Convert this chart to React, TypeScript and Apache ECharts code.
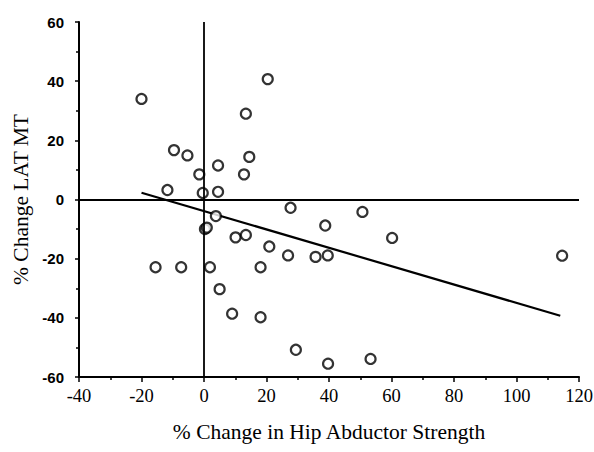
import React, { useEffect, useRef } from "react";
import * as echarts from "echarts";

const strengthChange = [
  -20, 20.4, 13.4, -9.6, -5.3, 4.5, 14.5, -1.5, 12.8, -11.7, -0.4, 4.5, 3.8, 0.3, 0.9,
  10.1, 13.4, 20.9, 27.7, 26.9, 38.8, 35.7, 39.6, -15.5, -7.3, 1.9, 18.1, 5, 9, 18.1,
  29.4, 39.7, 50.7, 60.2, 114.6, 53.3,
];
const latMtChange = [
  34, 40.7, 29, 16.7, 14.9, 11.5, 14.4, 8.5, 8.5, 3.2, 2.2, 2.6, -5.6, -10, -9.5,
  -12.8, -12, -15.9, -2.8, -18.9, -8.8, -19.4, -18.9, -22.9, -22.9, -22.9, -22.9, -30.3, -38.6, -39.8,
  -50.8, -55.5, -4.2, -13, -19, -53.9,
];
const fitX = [-20, 114];
const fitY = [2.3, -39.3];

const xTitle = "% Change in Hip Abductor Strength";
const yTitle = "% Change LAT MT";

export default function App() {
  const ref = useRef<HTMLDivElement>(null);
  useEffect(() => {
    if (!ref.current) return;
    const chart = echarts.init(ref.current, undefined, { renderer: "svg" });
    const serif = "'Liberation Serif', 'DejaVu Serif', serif";
    const sans = "'Liberation Sans', Arial, sans-serif";
    chart.setOption({
      animation: false,
      backgroundColor: "#ffffff",
      grid: { left: 79, right: 15, top: 22, bottom: 75, containLabel: false, outerBoundsMode: "none" },
      xAxis: {
        type: "value",
        min: -40,
        max: 120,
        interval: 20,
        name: xTitle,
        nameLocation: "middle",
        nameGap: 44,
        nameMoveOverlap: false,
        nameTextStyle: { fontFamily: serif, fontSize: 21.5, color: "#000" },
        axisLine: { show: true, onZero: false, lineStyle: { color: "#000", width: 2 } },
        axisTick: { show: true, inside: false, length: 5, lineStyle: { color: "#000", width: 1.5 } },
        minorTick: { show: true, splitNumber: 2, length: 3, lineStyle: { color: "#000", width: 1.5 } },
        axisLabel: { fontFamily: serif, fontSize: 18.5, color: "#000", margin: 9 },
        splitLine: { show: false },
      },
      yAxis: {
        type: "value",
        min: -60,
        max: 60,
        interval: 20,
        name: yTitle,
        nameLocation: "middle",
        nameGap: 47,
        nameMoveOverlap: false,
        nameRotate: 90,
        nameTextStyle: { fontFamily: serif, fontSize: 21.5, color: "#000" },
        axisLine: { show: true, onZero: false, lineStyle: { color: "#000", width: 2 } },
        axisTick: { show: true, inside: false, length: 4, lineStyle: { color: "#000", width: 1.5 } },
        minorTick: { show: true, splitNumber: 2, length: 3, lineStyle: { color: "#000", width: 1.5 } },
        axisLabel: { fontFamily: sans, fontWeight: "bold", fontSize: 15, color: "#000", margin: 15 },
        splitLine: { show: false },
      },
      series: [
        {
          type: "line",
          data: fitX.map((x, i) => [x, fitY[i]]),
          symbol: "none",
          lineStyle: { color: "#000", width: 2.2 },
          z: 3,
          markLine: {
            silent: true,
            symbol: "none",
            label: { show: false },
            lineStyle: { color: "#000", width: 1.8, type: "solid" },
            data: [{ xAxis: 0 }, { yAxis: 0 }],
          },
        },
        {
          type: "scatter",
          data: strengthChange.map((x, i) => [x, latMtChange[i]]),
          symbol: "circle",
          symbolSize: 10,
          itemStyle: { color: "#fff", borderColor: "#000", borderWidth: 2.2 },
          z: 4,
        },
      ],
    });
    return () => chart.dispose();
  }, []);
  return (
    <div
      ref={ref}
      style={{ position: "absolute", left: 0, top: 0, width: 594, height: 452 }}
    />
  );
}
